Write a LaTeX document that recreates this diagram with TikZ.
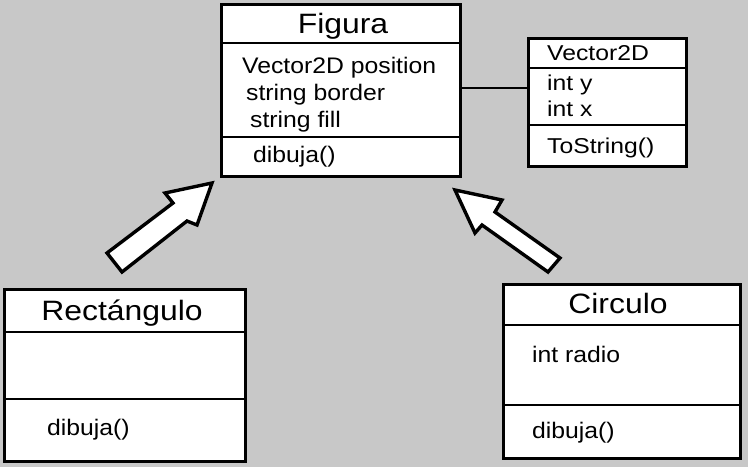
\documentclass[tikz,border=0pt]{standalone}
\usepackage{fontspec}
\setmainfont[FakeStretch=1.1]{Liberation Sans}
\newfontfamily\titlefont[FakeStretch=1.14]{Liberation Sans}
\newfontfamily\vecfont[FakeStretch=1.15]{Liberation Sans}
\definecolor{bggray}{RGB}{200,200,200}
\begin{document}
\begin{tikzpicture}[x=1pt,y=-1pt,
  classbox/.style={draw=black, fill=white, line width=3.4pt, rectangle, inner sep=0pt, outer sep=0pt, anchor=north west},
  divider/.style={line width=2.6pt},
  thindiv/.style={line width=1.3pt},
  title/.style={font=\titlefont\fontsize{28}{30}\selectfont, inner sep=0pt, anchor=base},
  member/.style={font=\fontsize{22.5}{24}\selectfont, inner sep=0pt, anchor=base west},
  vmember/.style={font=\vecfont\fontsize{21.5}{23}\selectfont, inner sep=0pt, anchor=base west},
  blockarrow/.style={draw=black, fill=white, line width=3.4pt, line join=miter}
]
\fill[bggray] (0,0) rectangle (748,467);
\useasboundingbox (0,0) rectangle (748,467);

% Figura
\node[classbox, minimum width=239pt, minimum height=172pt] (fig) at (221.5,4.5) {};
\draw[divider] ([yshift=-38.5pt]fig.north west) -- ([yshift=-38.5pt]fig.north east);
\draw[divider] ([yshift=-132.5pt]fig.north west) -- ([yshift=-132.5pt]fig.north east);
\node[title] (figt) at (343,33) {Figura};
\node[member] (fa1) at (242,73) {Vector2D position};
\node[member] (fa2) at (246,100) {string border};
\node[member] (fa3) at (250,127) {string fill};
\node[member] (fm1) at (253,162) {dibuja()};

% Vector2D
\node[classbox, minimum width=158pt, minimum height=128pt] (vec) at (528.5,38.5) {};
\draw[divider] ([yshift=-29.5pt]vec.north west) -- ([yshift=-29.5pt]vec.north east);
\draw[thindiv] ([yshift=-86.5pt]vec.north west) -- ([yshift=-86.5pt]vec.north east);
\node[vmember] (vt) at (547,60) {Vector2D};
\node[vmember] (va1) at (547,90) {int y};
\node[vmember] (va2) at (547,116) {int x};
\node[vmember] (vm1) at (547,153) {ToString()};

% connector
\draw[line width=2.6pt] (fig.east |- 0,88) -- (vec.west |- 0,88);

% Rectangulo
\node[classbox, minimum width=241pt, minimum height=172pt] (rect) at (4.5,289.5) {};
\draw[divider] ([yshift=-42.5pt]rect.north west) -- ([yshift=-42.5pt]rect.north east);
\draw[divider] ([yshift=-109.5pt]rect.north west) -- ([yshift=-109.5pt]rect.north east);
\node[title] (rt) at (122,320) {Rectángulo};
\node[member] (rm1) at (47,435) {dibuja()};

% Circulo
\node[classbox, minimum width=237pt, minimum height=174pt] (circ) at (503.5,284.5) {};
\draw[divider] ([yshift=-40.5pt]circ.north west) -- ([yshift=-40.5pt]circ.north east);
\draw[divider] ([yshift=-120.5pt]circ.north west) -- ([yshift=-120.5pt]circ.north east);
\node[title] (ct) at (618,313) {Circulo};
\node[member] (ca1) at (532,362) {int radio};
\node[member] (cm1) at (532,438) {dibuja()};

% generalization block arrows
\draw[blockarrow] (212,183) -- (165,193) -- (173,203) -- (107,253) -- (122,272) -- (187,221) -- (197,225) -- cycle;
\draw[blockarrow] (455,190) -- (502,200) -- (495,212) -- (560,258) -- (548,272) -- (482,225) -- (475,233) -- cycle;
\end{tikzpicture}
\end{document}
